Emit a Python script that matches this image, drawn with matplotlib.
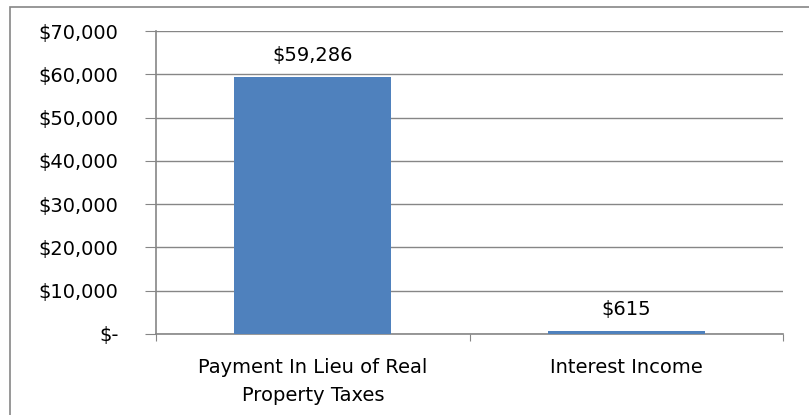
import matplotlib.pyplot as plt
from matplotlib.patches import Rectangle
from matplotlib.ticker import FuncFormatter

categories = ["Payment In Lieu of Real\nProperty Taxes", "Interest Income"]
values = [59286, 615]
value_labels = ["$59,286", "$615"]
yticks = [0, 10000, 20000, 30000, 40000, 50000, 60000, 70000]

plt.rcParams['font.family'] = ['DejaVu Sans']
grey = '#868686'
fs = 14

fig = plt.figure(figsize=(8.09, 4.15), dpi=100)
ax = fig.add_axes([156 / 809, 1 - 334 / 415, (783 - 156) / 809, (334 - 31) / 415])

# outer chart border (right and bottom edges fall outside the picture)
fig.patches.append(Rectangle((10 / 809, -10 / 415), 820 / 809, 418 / 415,
                             transform=fig.transFigure, fill=False,
                             edgecolor=grey, linewidth=1.2))

x = [0, 1]
ax.bar(x, values, width=0.5, color='#4F81BD', zorder=3)
for xi, v, lab in zip(x, values, value_labels):
    ax.annotate(lab, (xi, v), xytext=(0, 9), textcoords='offset points',
                ha='center', va='bottom', fontsize=fs)

ax.set_xlim(-0.5, 1.5)
ax.set_ylim(0, 70000)
ax.set_yticks(yticks)
ax.yaxis.set_major_formatter(FuncFormatter(lambda v, p: "$-" if v == 0 else f"${v:,.0f}"))
ax.yaxis.grid(True, color=grey, linewidth=1)
ax.set_axisbelow(True)

ax.set_xticks([-0.5, 0.5, 1.5])
ax.set_xticklabels([])
ax.set_xticks(x, minor=True)
ax.set_xticklabels(categories, minor=True, fontsize=fs, linespacing=1.6)
ax.tick_params(axis='x', which='major', length=5, color=grey, direction='out')
ax.tick_params(axis='x', which='minor', length=0, pad=17)
ax.tick_params(axis='y', length=8, color=grey, labelsize=fs, pad=19)

for s in ['top', 'right']:
    ax.spines[s].set_visible(False)
for s in ['left', 'bottom']:
    ax.spines[s].set_color(grey)
    ax.spines[s].set_linewidth(1.2)

fig.savefig('out.png', dpi=100)
